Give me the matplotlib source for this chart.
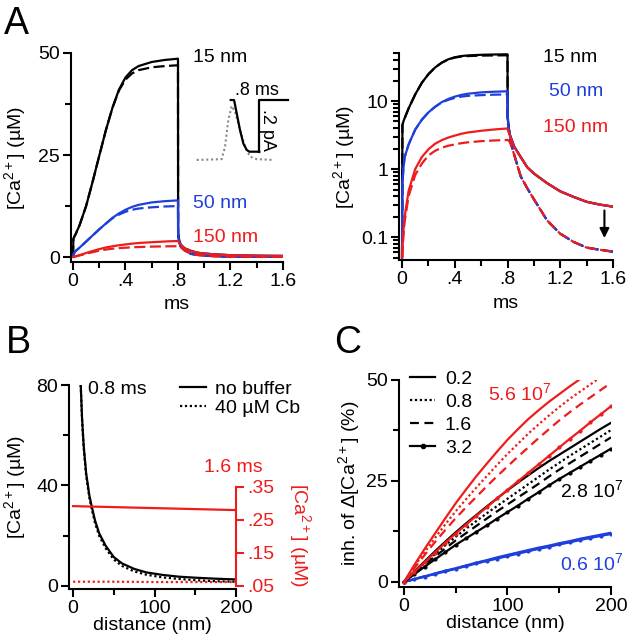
import matplotlib
matplotlib.use('Agg')
import matplotlib.pyplot as plt
from matplotlib.lines import Line2D
from matplotlib.ticker import NullFormatter, LogLocator

plt.rcParams['font.family'] = ['Liberation Sans', 'DejaVu Sans']
plt.rcParams['mathtext.default'] = 'regular'
plt.rcParams['font.size'] = 14

RED = '#ee1c1c'
BLUE = '#1f3fdc'

# ---- panel A: [Ca2+] time course at 15, 50, 150 nm (solid = no buffer, dashed = Cb)
t_ms = [0, 0.003, 0.01, 0.02, 0.05, 0.1, 0.15, 0.2, 0.25, 0.3, 0.35, 0.4, 0.45, 0.5, 0.6, 0.7, 0.8,
        0.801, 0.81, 0.82, 0.85, 0.9, 0.95, 1.0, 1.1, 1.2, 1.3, 1.4, 1.5, 1.6]
ca15_solid = [0.05, 4.4, 5.0, 5.6, 7.8, 12.5, 18.5, 24.8, 31.0, 36.5, 41.0, 44.0, 45.8, 46.8, 47.8, 48.3, 48.6,
              6.0, 4.0, 3.1, 2.15, 1.5, 1.06, 0.86, 0.62, 0.47, 0.39, 0.33, 0.30, 0.28]
ca15_dash = [0.05, 4.4, 5.0, 5.6, 7.8, 12.5, 18.5, 24.8, 31.0, 36.5, 40.8, 43.5, 45.0, 45.8, 46.5, 46.8, 47.0,
             5.5, 3.6, 2.6, 1.64, 0.78, 0.52, 0.36, 0.176, 0.112, 0.085, 0.07, 0.065, 0.061]
ca50_solid = [0.05, 0.6, 1.0, 1.5, 2.3, 3.8, 5.3, 6.8, 8.2, 9.6, 10.7, 11.6, 12.3, 12.8, 13.4, 13.7, 13.9,
              5.5, 3.9, 3.1, 2.15, 1.5, 1.06, 0.86, 0.62, 0.47, 0.39, 0.33, 0.30, 0.28]
ca50_dash = [0.05, 0.6, 1.0, 1.5, 2.3, 3.8, 5.3, 6.8, 8.2, 9.5, 10.4, 11.1, 11.6, 11.9, 12.2, 12.4, 12.5,
             5.0, 3.5, 2.6, 1.64, 0.78, 0.52, 0.36, 0.176, 0.112, 0.085, 0.07, 0.065, 0.061]
ca150_solid = [0.05, 0.07, 0.12, 0.2, 0.48, 1.0, 1.5, 1.95, 2.35, 2.65, 2.9, 3.1, 3.3, 3.45, 3.65, 3.82, 3.95,
               3.9, 3.5, 3.0, 2.15, 1.5, 1.06, 0.86, 0.62, 0.47, 0.39, 0.33, 0.30, 0.28]
ca150_dash = [0.05, 0.06, 0.1, 0.17, 0.4, 0.82, 1.2, 1.58, 1.85, 2.05, 2.2, 2.3, 2.4, 2.47, 2.57, 2.63, 2.67,
              2.66, 2.6, 2.45, 1.64, 0.78, 0.52, 0.36, 0.176, 0.112, 0.085, 0.07, 0.065, 0.061]

# inset: Ca current and AP waveform
cur_t = [0, 0.093, 0.121, 0.186, 0.26, 0.353, 0.447, 0.52, 0.8]
cur_pA = [0, 0, -0.019, -0.064, -0.116, -0.168, -0.193, -0.2, -0.2]
ap_t = [-0.952, -0.253, -0.159, -0.066, 0.028, 0.121, 0.261, 0.401, 0.54, 0.727, 1.193]
ap_v = [-0.232, -0.229, -0.181, -0.077, -0.023, -0.045, -0.116, -0.181, -0.219, -0.229, -0.232]

# ---- panel B: profiles vs distance
dist_b = [9.4, 11, 13, 16, 20, 23, 27, 32, 40, 50, 60, 75, 90, 110, 130, 150, 175, 200]
prof_nobuf = [80, 67, 56, 45, 36, 31.5, 26, 21, 16, 11.5, 9, 6.8, 5.4, 4.4, 3.7, 3.3, 2.9, 2.6]
prof_cb = [80, 66, 55, 44, 35, 30.5, 25, 20, 15, 10.5, 8, 5.8, 4.5, 3.4, 2.8, 2.3, 1.9, 1.7]
dist_late = [0, 50, 100, 150, 200]
late_nobuf = [0.292, 0.289, 0.286, 0.283, 0.280]
late_cb = [0.063, 0.063, 0.062, 0.062, 0.062]

# ---- panel C: inhibition vs distance, Cb binding rates (red 5.6, black 2.8, blue 0.6 x1e7)
dist_c = [0, 10, 20, 30, 40, 50, 60, 70, 80, 90, 100, 110, 120, 130, 140, 150, 160, 170, 180, 190, 200]
red_02 = [0, 4.2, 8.2, 12.0, 15.8, 19.5, 22.9, 26.2, 29.3, 32.3, 35.2,
          37.8, 40.3, 42.5, 44.6, 46.5, 48.4, 50.2, 52.0, 53.8, 55.5]
red_08 = [0, 3.8, 7.4, 10.9, 14.3, 17.5, 20.5, 23.4, 26.2, 29.0, 31.7,
          34.2, 36.7, 39.0, 41.2, 43.3, 45.3, 47.1, 48.9, 50.7, 52.5]
red_16 = [0, 3.4, 6.7, 9.9, 12.9, 15.8, 18.5, 21.1, 23.7, 26.2, 28.6,
          31.0, 33.3, 35.6, 37.8, 40.0, 42.0, 43.9, 45.7, 47.5, 49.3]
red_32 = [0, 2.5, 4.9, 7.3, 9.7, 12.0, 14.2, 16.4, 18.5, 20.7, 22.8,
          24.9, 27.0, 29.1, 31.2, 33.3, 35.4, 37.4, 39.5, 41.5, 43.5]
blk_02 = [0, 2.6, 5.1, 7.6, 10.0, 12.3, 14.5, 16.6, 18.7, 20.7, 22.7,
          24.6, 26.4, 28.2, 29.9, 31.5, 33.1, 34.7, 36.3, 37.9, 39.4]
blk_08 = [0, 2.4, 4.7, 6.9, 9.1, 11.2, 13.2, 15.1, 17.0, 18.8, 20.6,
          22.4, 24.2, 26.0, 27.8, 29.5, 31.2, 32.8, 34.4, 36.0, 37.6]
blk_16 = [0, 2.2, 4.3, 6.3, 8.3, 10.3, 12.1, 13.9, 15.7, 17.5, 19.2,
          20.9, 22.6, 24.3, 26.1, 27.8, 29.4, 31.0, 32.6, 34.2, 35.8]
blk_32 = [0, 1.9, 3.8, 5.6, 7.4, 9.2, 10.8, 12.4, 14.0, 15.7, 17.3,
          18.9, 20.6, 22.2, 23.9, 25.5, 27.0, 28.5, 30.0, 31.5, 33.0]
blu_02 = [0, 0.7, 1.4, 2.1, 2.8, 3.4, 4.1, 4.8, 5.4, 6.1, 6.7,
          7.3, 7.9, 8.5, 9.0, 9.6, 10.1, 10.7, 11.2, 11.7, 12.2]
blu_08 = [0, 0.7, 1.4, 2.1, 2.7, 3.4, 4.0, 4.7, 5.3, 6.0, 6.6,
          7.2, 7.8, 8.4, 8.9, 9.5, 10.0, 10.6, 11.1, 11.6, 12.1]
blu_16 = [0, 0.7, 1.4, 2.0, 2.7, 3.3, 4.0, 4.6, 5.3, 5.9, 6.5,
          7.1, 7.7, 8.3, 8.8, 9.4, 9.9, 10.5, 11.0, 11.5, 12.0]
blu_32 = [0, 0.7, 1.3, 2.0, 2.6, 3.3, 3.9, 4.6, 5.2, 5.8, 6.4,
          7.0, 7.6, 8.2, 8.7, 9.3, 9.8, 10.4, 10.9, 11.4, 11.9]

W, H = 627, 639
fig = plt.figure(figsize=(W / 100, H / 100), dpi=100)


def add_ax(left, top, right, bottom):
    return fig.add_axes([left / W, 1 - bottom / H, (right - left) / W, (bottom - top) / H])


def ftext(x, y, s, **kw):
    return fig.text(x / W, 1 - y / H, s, **kw)


def style(ax):
    for s in ['top', 'right']:
        ax.spines[s].set_visible(False)
    for s in ['left', 'bottom']:
        ax.spines[s].set_linewidth(1.5)
    ax.tick_params(which='major', direction='out', length=6, width=1.5, pad=2, labelsize=14)
    ax.tick_params(which='minor', direction='out', length=4, width=1.5)


DASH = (0, (5, 2))
DOT = (0, (1, 1.2))
CA_LABEL = r'[Ca$^{2+}$] (µM)'

# ---------------- A left (linear)
axL = add_ax(71, 53, 283, 262)
style(axL)
for sol, das, c in [(ca15_solid, ca15_dash, 'k'), (ca50_solid, ca50_dash, BLUE), (ca150_solid, ca150_dash, RED)]:
    axL.plot(t_ms, sol, color=c, lw=1.6)
    axL.plot(t_ms, das, color=c, lw=1.6, ls=DASH)
axL.set_xlim(-0.015, 1.6)
axL.set_ylim(-1.2, 50)
axL.set_xticks([0, 0.4, 0.8, 1.2, 1.6])
axL.set_xticklabels(['0', '.4', '.8', '1.2', '1.6'])
axL.set_xticks([0.2, 0.6, 1.0, 1.4], minor=True)
axL.set_yticks([0, 25, 50])
axL.set_yticks([12.5, 37.5], minor=True)
axL.set_xlabel('ms')
axL.xaxis.set_label_coords(0.5, -0.165)
axL.set_ylabel(CA_LABEL)
axL.yaxis.set_label_coords(-0.205, 0.5)

# inset
axI = add_ax(195, 83, 290, 165)
axI.axis('off')
axI.set_xlim(-0.999, 1.659)
axI.set_ylim(-0.2515, 0.0658)
axI.plot(ap_t, ap_v, color='#888888', lw=1.5, ls=(0, (1, 1.3)))
axI.plot(cur_t, cur_pA, color='k', lw=1.6)
axI.plot([0.8, 0.8, 1.6], [-0.2, 0, 0], color='k', lw=1.6)
axI.text(0.736, 0.035, '.8 ms', ha='center', va='center', fontsize=13)
axI.text(1.02, -0.116, '.2 pA', ha='center', va='center', rotation=270, fontsize=13)

ftext(193, 58, '15 nm', ha='left', va='center', color='k')
ftext(193, 204, '50 nm', ha='left', va='center', color=BLUE)
ftext(193, 237, '150 nm', ha='left', va='center', color=RED)

# ---------------- A right (log)
axR = add_ax(399, 53, 613, 260)
style(axR)
for sol, das, c in [(ca15_solid, ca15_dash, 'k'), (ca50_solid, ca50_dash, BLUE), (ca150_solid, ca150_dash, RED)]:
    axR.plot(t_ms, sol, color=c, lw=1.6)
    axR.plot(t_ms, das, color=c, lw=1.6, ls=DASH)
axR.set_yscale('log')
axR.set_xlim(-0.023, 1.6)
axR.set_ylim(0.046, 50.8)
axR.set_xticks([0, 0.4, 0.8, 1.2, 1.6])
axR.set_xticklabels(['0', '.4', '.8', '1.2', '1.6'])
axR.set_xticks([0.2, 0.6, 1.0, 1.4], minor=True)
axR.set_yticks([0.1, 1, 10])
axR.set_yticklabels(['0.1', '1', '10'])
axR.yaxis.set_minor_locator(LogLocator(base=10, subs=range(2, 10)))
axR.yaxis.set_minor_formatter(NullFormatter())
axR.set_xlabel('ms')
axR.xaxis.set_label_coords(0.5, -0.17)
axR.set_ylabel(CA_LABEL)
axR.yaxis.set_label_coords(-0.196, 0.5)
axR.annotate('', xy=(1.535, 0.088), xytext=(1.535, 0.27),
             arrowprops=dict(arrowstyle='-|>', color='k', lw=1.5, mutation_scale=14))
ftext(543, 58, '15 nm', ha='left', va='center', color='k')
ftext(549, 92, '50 nm', ha='left', va='center', color=BLUE)
ftext(543, 128, '150 nm', ha='left', va='center', color=RED)

# ---------------- B
axB = add_ax(69, 385, 236, 589)
style(axB)
axB.plot(dist_b, prof_nobuf, color='k', lw=1.6)
axB.plot(dist_b, prof_cb, color='k', lw=1.6, ls=DOT)
axB.set_xlim(-5, 200)
axB.set_ylim(-1.2, 80)
axB.set_xticks([0, 100, 200])
axB.set_xticks([50, 150], minor=True)
axB.set_yticks([0, 40, 80])
axB.set_yticks([20, 60], minor=True)
axB.set_xlabel('distance (nm)')
axB.xaxis.set_label_coords(0.5, -0.135)
axB.set_ylabel(CA_LABEL)
axB.yaxis.set_label_coords(-0.245, 0.5)

axB2 = axB.twinx()
for s in ['top', 'left', 'bottom']:
    axB2.spines[s].set_visible(False)
axB2.spines['right'].set_color(RED)
axB2.spines['right'].set_linewidth(1.5)
axB2.spines['right'].set_bounds(0.05, 0.35)
axB2.plot(dist_late, late_nobuf, color=RED, lw=1.6)
axB2.plot(dist_late, late_cb, color=RED, lw=1.6, ls=DOT)
axB2.set_ylim(0.0409, 0.659)
axB2.set_yticks([0.05, 0.15, 0.25, 0.35])
axB2.set_yticklabels(['.05', '.15', '.25', '.35'])
axB2.tick_params(axis='y', direction='out', length=6, width=1.5, pad=2, labelsize=14,
                 color=RED, labelcolor=RED)
ftext(300, 535, CA_LABEL, ha='center', va='center', rotation=270, color=RED)
ftext(88, 390, '0.8 ms', ha='left', va='center', color='k')
ftext(233, 467, '1.6 ms', ha='center', va='center', color=RED)
hB = [Line2D([], [], color='k', lw=1.6), Line2D([], [], color='k', lw=1.6, ls=DOT)]
fig.legend(hB, ['no buffer', '40 µM Cb'], loc='upper left', bbox_to_anchor=(180 / W, 1 - 380 / H),
           frameon=False, borderpad=0, handlelength=1.35, handletextpad=0.45, labelspacing=0.1,
           borderaxespad=0, fontsize=14)

# ---------------- C
axC = add_ax(399, 380, 611, 587)
style(axC)
for ys02, ys08, ys16, ys32, c in [(blu_02, blu_08, blu_16, blu_32, BLUE),
                                  (blk_02, blk_08, blk_16, blk_32, 'k'),
                                  (red_02, red_08, red_16, red_32, RED)]:
    axC.plot(dist_c, ys02, color=c, lw=1.6)
    axC.plot(dist_c, ys08, color=c, lw=1.6, ls=DOT)
    axC.plot(dist_c, ys16, color=c, lw=1.6, ls=(0, (4, 2.5)))
    axC.plot(dist_c, ys32, color=c, lw=1.6, marker='.', ms=4)
axC.set_xlim(-4.8, 200)
axC.set_ylim(-1.24, 50)
axC.set_xticks([0, 100, 200])
axC.set_xticks([50, 150], minor=True)
axC.set_yticks([0, 25, 50])
axC.set_yticks([12.5, 37.5], minor=True)
axC.set_xlabel('distance (nm)')
axC.xaxis.set_label_coords(0.5, -0.135)
axC.set_ylabel(r'inh. of $\Delta$[Ca$^{2+}$] (%)')
axC.yaxis.set_label_coords(-0.175, 0.5)
hC = [Line2D([], [], color='k', lw=1.6), Line2D([], [], color='k', lw=1.6, ls=DOT),
      Line2D([], [], color='k', lw=1.6, ls=(0, (4, 2.5))),
      Line2D([], [], color='k', lw=1.6, marker='.', ms=6)]
fig.legend(hC, ['0.2', '0.8', '1.6', '3.2'], loc='upper left', bbox_to_anchor=(410 / W, 1 - 370 / H),
           frameon=False, borderpad=0, handlelength=1.3, handletextpad=0.5, labelspacing=0.28,
           borderaxespad=0, fontsize=14, numpoints=1)
ftext(488, 393, r'5.6 10$^7$', ha='left', va='center', color=RED)
ftext(560, 490, r'2.8 10$^7$', ha='left', va='center', color='k')
ftext(560, 563, r'0.6 10$^7$', ha='left', va='center', color=BLUE)

# panel letters
ftext(4, 6, 'A', ha='left', va='top', fontsize=27)
ftext(6, 325, 'B', ha='left', va='top', fontsize=27)
ftext(334, 325, 'C', ha='left', va='top', fontsize=27)

fig.savefig('out.png', dpi=100)
